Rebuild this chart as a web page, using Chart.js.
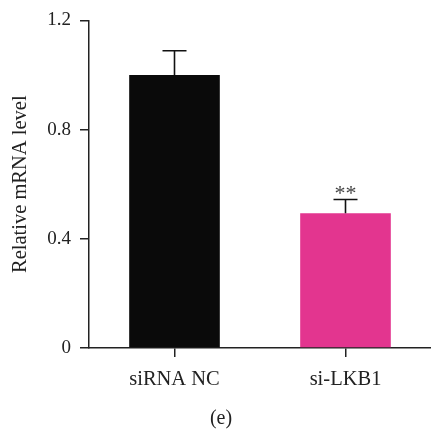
<!DOCTYPE html>
<html><head><meta charset="utf-8">
<script src="https://cdn.jsdelivr.net/npm/chart.js@4"></script>
<style>html,body{margin:0;padding:0;background:#fff}#w{width:431px;height:431px}</style>
</head><body><div id="w"><canvas id="c" width="431" height="431"></canvas></div>
<script>
const categories = ['siRNA NC', 'si-LKB1'];
const values = [1.0, 0.494];
const errors = [0.089, 0.05];
const significance = ['', '**'];
const barColors = ['#0a0a0a', '#e3358f'];
const yTicks = [0, 0.4, 0.8, 1.2];
const yTitle = 'Relative mRNA level';
const panelLabel = '(e)';

const FONT = "'Liberation Serif', 'Times New Roman', serif";

const errorPlugin = {
  id: 'errs',
  afterDatasetsDraw(chart) {
    const ctx = chart.ctx;
    const meta = chart.getDatasetMeta(0);
    const y = chart.scales.y;
    ctx.save();
    ctx.strokeStyle = '#111';
    ctx.lineWidth = 1.6;
    meta.data.forEach((bar, i) => {
      const x = bar.x;
      const yTop = y.getPixelForValue(values[i] + errors[i]);
      const yB = y.getPixelForValue(values[i]);
      ctx.beginPath();
      ctx.moveTo(x, yB);
      ctx.lineTo(x, yTop);
      ctx.moveTo(x - 12, yTop);
      ctx.lineTo(x + 12, yTop);
      ctx.stroke();
      if (significance[i]) {
        ctx.fillStyle = '#444';
        ctx.font = '22px ' + FONT;
        ctx.textAlign = 'center';
        ctx.textBaseline = 'alphabetic';
        ctx.fillText(significance[i], x, yTop + 1);
      }
    });
    ctx.fillStyle = '#222';
    ctx.font = '20px ' + FONT;
    ctx.textAlign = 'center';
    ctx.textBaseline = 'middle';
    ctx.fillText(panelLabel, 221, 419);
    ctx.restore();
  }
};

new Chart(document.getElementById('c'), {
  type: 'bar',
  data: {
    labels: categories,
    datasets: [{ data: values, backgroundColor: barColors, borderWidth: 0,
      barPercentage: 0.53, categoryPercentage: 1.0 }]
  },
  options: {
    responsive: false,
    animation: false,
    layout: { padding: { left: 0, right: 0, top: 20, bottom: 33 } },
    plugins: { legend: { display: false }, tooltip: { enabled: false } },
    scales: {
      x: {
        grid: { display: true, offset: false, drawOnChartArea: false, drawTicks: true, tickLength: 9, color: '#222', lineWidth: 1.5 },
        border: { display: true, color: '#222', width: 1.5 },
        ticks: { color: '#222', font: { family: FONT, size: 20.5 }, padding: 10 },
        afterFit(s) { s.height = 50; }
      },
      y: {
        min: 0, max: 1.2,
        afterBuildTicks(s) { s.ticks = yTicks.map(v => ({ value: v })); },
        grid: { display: true, drawOnChartArea: false, drawTicks: true, tickLength: 9, color: '#222', lineWidth: 1.5 },
        border: { display: true, color: '#222', width: 1.5 },
        ticks: { color: '#222', font: { family: FONT, size: 19 }, padding: 9,
          callback: (v) => (v === 0 ? '0' : v.toFixed(1)) },
        title: { display: true, text: yTitle, color: '#222', font: { family: FONT, size: 20.5 }, padding: { top: 8, bottom: 0 } },
        afterFit(s) { s.width = 89; }
      }
    }
  },
  plugins: [errorPlugin]
});
</script></body></html>
